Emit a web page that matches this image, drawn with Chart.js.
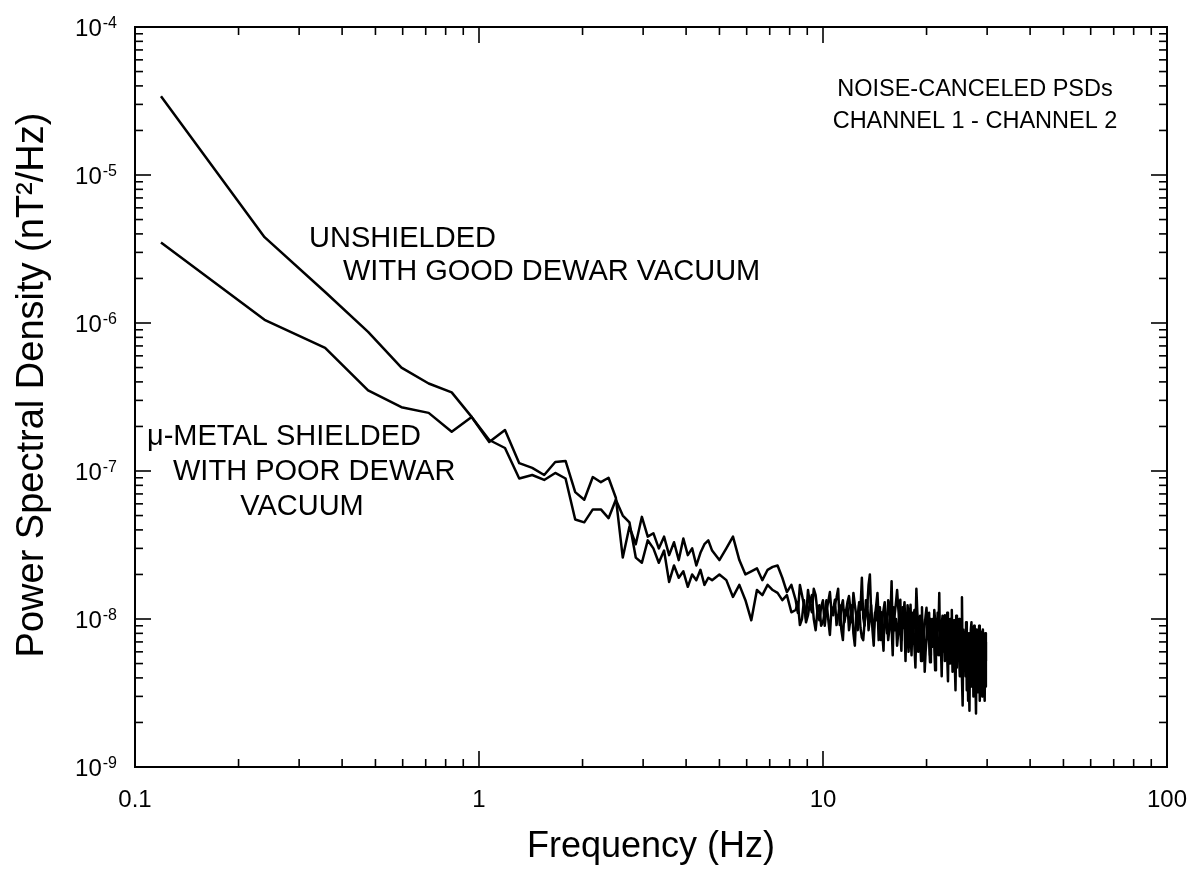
<!DOCTYPE html>
<html><head><meta charset="utf-8">
<script src="https://cdn.jsdelivr.net/npm/chart.js@4/dist/chart.umd.min.js"></script>
<style>html,body{margin:0;padding:0;background:#fff;overflow:hidden}</style>
</head><body>
<div style="width:1193px;height:870px"><canvas id="c" width="1193" height="870"></canvas></div>
<script>
// Frequency bins (Hz)
const freqHz = [0.119,0.238,0.357,0.476,0.595,0.714,0.833,0.952,1.071,1.19,1.309,1.428,1.547,1.666,1.785,1.904,2.023,2.142,2.261,2.38,2.499,2.618,2.737,2.856,2.975,3.094,3.213,3.332,3.451,3.57,3.689,3.808,3.927,4.046,4.165,4.284,4.403,4.522,4.641,4.76,
4.998,5.236,5.474,5.712,5.95,6.188,6.426,6.664,6.902,7.14,7.378,7.616,7.854,8.092,
8.33,8.449,8.568,8.687,8.806,8.925,9.044,9.163,9.282,9.401,
9.52,9.639,9.758,9.877,9.996,10.115,10.234,10.353,10.472,10.591,
10.71,10.829,10.948,11.067,11.186,11.305,11.424,11.543,11.662,11.781,
11.9,12.019,12.138,12.257,12.376,12.495,12.614,12.733,12.852,12.971,
13.09,13.209,13.328,13.447,13.566,13.685,13.804,13.923,14.042,14.161,
14.28,14.399,14.518,14.637,14.756,14.875,14.994,15.113,15.232,15.351,
15.47,15.589,15.708,15.827,15.946,16.065,16.184,16.303,16.422,16.541,
16.66,16.779,16.898,17.017,17.136,17.255,17.374,17.493,17.612,17.731,
17.85,17.969,18.088,18.207,18.326,18.445,18.564,18.683,18.802,18.921,
19.04,19.159,19.278,19.397,19.516,19.635,19.754,19.873,19.992,20.111,
20.23,20.349,20.468,20.587,20.706,20.825,20.944,21.063,21.182,21.301,
21.42,21.539,21.658,21.777,21.896,22.015,22.134,22.253,22.372,22.491,
22.61,22.729,22.848,22.967,23.086,23.205,23.324,23.443,23.562,23.681,
23.8,23.919,24.038,24.157,24.276,24.395,24.514,24.633,24.752,24.871,
24.99,25.109,25.228,25.347,25.466,25.585,25.704,25.823,25.942,26.061,
26.18,26.299,26.418,26.537,26.656,26.775,26.894,27.013,27.132,27.251,
27.37,27.489,27.608,27.727,27.846,27.965,28.084,28.203,28.322,28.441,
28.56,28.679,28.798,28.917,29.036,29.155,29.274,29.393,29.512,29.631,
29.75];

// Unshielded, good dewar vacuum (nT^2/Hz)
const psdUnshielded = [3.4e-5,3.8e-6,1.62e-6,8.7e-7,5.0e-7,3.9e-7,3.4e-7,2.32e-7,1.57e-7,1.89e-7,1.13e-7,1.05e-7,9.4e-8,1.15e-7,1.17e-7,7.2e-8,6.4e-8,9.1e-8,8.4e-8,9.0e-8,6.6e-8,2.6e-8,4.2e-8,3.2e-8,4.9e-8,3.6e-8,3.8e-8,3.0e-8,3.6e-8,2.7e-8,3.3e-8,2.5e-8,3.5e-8,2.7e-8,3.0e-8,2.3e-8,2.8e-8,3.2e-8,3.4e-8,2.9e-8,
2.5e-8,3.0e-8,3.6e-8,2.5e-8,2.0e-8,2.1e-8,2.2e-8,1.83e-8,2.15e-8,2.25e-8,2.3e-8,1.9e-8,1.52e-8,1.7e-8,
1.34e-8,1.1e-8,1.7e-8,1.45e-8,1.24e-8,1.0e-8,1.57e-8,1.25e-8,1.11e-8,1.6e-8,
1.45e-8,1.1e-8,9.8e-9,1.2e-8,1.34e-8,9.0e-9,1.15e-8,1.3e-8,1.52e-8,1.1e-8,
1.06e-8,1.25e-8,1.39e-8,1.6e-8,9.1e-9,1.2e-8,1.34e-8,9.5e-9,1.11e-8,1.3e-8,
1.43e-8,1.15e-8,9.5e-9,1.5e-8,1.24e-8,1.05e-8,8.4e-9,1.3e-8,1.15e-8,1.9e-8,
1.02e-8,9.0e-9,1.34e-8,1.2e-8,1.7e-8,2.0e-8,1.11e-8,9.5e-9,8.4e-9,1.05e-8,
1.24e-8,1.5e-8,9.8e-9,1.2e-8,7.2e-9,1.0e-8,1.15e-8,1.3e-8,9.1e-9,8.0e-9,
1.34e-8,1.2e-8,1.02e-8,1.8e-8,7.8e-9,9.5e-9,1.11e-8,1.3e-8,1.57e-8,1.2e-8,
9.8e-9,1.35e-8,7.2e-9,1.05e-8,1.06e-8,1.3e-8,8.4e-9,7.0e-9,1.24e-8,1.05e-8,
9.1e-9,1.25e-8,6.6e-9,8.5e-9,1.02e-8,1.15e-8,8.2e-9,1.6e-8,1.11e-8,9.0e-9,
7.2e-9,1.05e-8,9.8e-9,1.2e-8,6.1e-9,7.5e-9,9.1e-9,1.05e-8,1.19e-8,9.0e-9,
7.8e-9,1.1e-8,5.7e-9,1.0e-8,8.7e-9,6.5e-9,7.2e-9,1.15e-8,9.8e-9,8.0e-9,
6.6e-9,1.1e-8,8.4e-9,1.5e-8,5.7e-9,7.0e-9,9.1e-9,1.05e-8,7.2e-9,6.0e-9,
1.06e-8,9.0e-9,6.4e-9,1.1e-8,8.2e-9,7.0e-9,5.2e-9,1.0e-8,8.7e-9,1.15e-8,
6.6e-9,7.5e-9,9.8e-9,8.5e-9,6.1e-9,1.05e-8,4.7e-9,6.5e-9,7.8e-9,1.0e-8,
6.1e-9,7.5e-9,9.1e-9,1.4e-8,5.2e-9,8.5e-9,7.2e-9,6.0e-9,4.1e-9,9.5e-9,
6.6e-9,5.5e-9,2.8e-9,8.0e-9,6.1e-9,4.5e-9,8.4e-9,9.5e-9,4.8e-9,6.5e-9,
7.2e-9,9.0e-9,3.3e-9,5.0e-9,6.6e-9,8.5e-9,3.8e-9,5.5e-9,7.2e-9,9.0e-9,
4.5e-9,6.0e-9,8.2e-9,5.5e-9,3.0e-9,8.5e-9,6.1e-9,4.0e-9,7.2e-9,8.0e-9,
3.5e-9];

// mu-metal shielded, poor dewar vacuum (nT^2/Hz)
const psdShielded = [3.5e-6,1.05e-6,6.8e-7,3.5e-7,2.7e-7,2.47e-7,1.84e-7,2.32e-7,1.62e-7,1.43e-7,8.9e-8,9.4e-8,8.7e-8,9.7e-8,8.9e-8,4.7e-8,4.5e-8,5.5e-8,5.5e-8,4.8e-8,6.4e-8,5.0e-8,4.5e-8,2.6e-8,2.4e-8,3.4e-8,3.0e-8,2.4e-8,2.9e-8,1.78e-8,2.3e-8,1.9e-8,2.1e-8,1.65e-8,2.0e-8,1.83e-8,2.15e-8,1.7e-8,1.9e-8,1.83e-8,
2.0e-8,1.83e-8,1.41e-8,1.7e-8,1.34e-8,9.8e-9,1.57e-8,1.45e-8,1.7e-8,1.57e-8,1.5e-8,1.34e-8,1.45e-8,1.11e-8,
1.15e-8,1.3e-8,9.1e-9,1.0e-8,1.34e-8,9.5e-9,1.06e-8,1.3e-8,1.45e-8,1.0e-8,
8.4e-9,1.15e-8,1.24e-8,9.0e-9,9.5e-9,1.1e-8,1.34e-8,1.0e-8,7.8e-9,1.2e-8,
1.15e-8,1.35e-8,9.1e-9,1.05e-8,1.24e-8,8.5e-9,7.2e-9,1.15e-8,1.06e-8,1.25e-8,
8.4e-9,1.0e-8,1.24e-8,8.0e-9,6.6e-9,1.1e-8,1.06e-8,1.25e-8,8.7e-9,7.5e-9,
7.2e-9,9.5e-9,1.11e-8,1.3e-8,8.4e-9,1.0e-8,1.24e-8,8.5e-9,6.6e-9,1.1e-8,
9.8e-9,1.2e-8,7.2e-9,9.0e-9,1.11e-8,8.0e-9,6.1e-9,1.15e-8,9.1e-9,1.0e-8,
7.2e-9,8.5e-9,1.06e-8,9.0e-9,5.7e-9,1.2e-8,8.4e-9,1.0e-8,6.6e-9,8.0e-9,
1.11e-8,8.5e-9,6.1e-9,1.2e-8,8.7e-9,9.5e-9,5.2e-9,1.05e-8,7.8e-9,6.0e-9,
9.8e-9,8.0e-9,5.7e-9,1.1e-8,8.4e-9,6.5e-9,4.7e-9,9.5e-9,7.2e-9,6.0e-9,
9.1e-9,7.5e-9,5.2e-9,1.0e-8,7.8e-9,8.5e-9,4.4e-9,6.0e-9,7.2e-9,9.0e-9,
9.8e-9,7.0e-9,5.1e-9,8.5e-9,6.6e-9,1.0e-8,8.4e-9,6.5e-9,4.5e-9,9.0e-9,
7.2e-9,6.0e-9,5.7e-9,7.5e-9,9.1e-9,6.5e-9,4.1e-9,8.5e-9,6.6e-9,1.0e-8,
5.2e-9,6.5e-9,8.4e-9,5.5e-9,3.8e-9,9.0e-9,6.1e-9,5.0e-9,7.2e-9,8.5e-9,
4.4e-9,9.5e-9,6.6e-9,5.0e-9,3.3e-9,8.0e-9,6.1e-9,9.0e-9,8.4e-9,5.5e-9,
4.1e-9,8.5e-9,6.0e-9,4.0e-9,2.6e-9,7.5e-9,5.2e-9,4.5e-9,7.2e-9,8.0e-9,
3.3e-9,6.0e-9,5.7e-9,4.0e-9,2.4e-9,8.0e-9,5.2e-9,3.5e-9,7.2e-9,6.5e-9,
3.0e-9,8.5e-9,5.2e-9,4.2e-9,2.3e-9,7.0e-9,4.8e-9,3.2e-9,6.4e-9,6.0e-9,
2.8e-9,8.0e-9,5.7e-9,4.5e-9,3.3e-9,6.5e-9,7.2e-9,4.0e-9,2.8e-9,7.0e-9,
5.2e-9];

// Axis tick labels
const xTickValues = [0.1, 1, 10, 100];
const xTickLabels = ['0.1', '1', '10', '100'];
const yTickExponents = [-4, -5, -6, -7, -8, -9];

const FONT = '"Liberation Sans", Arial, Helvetica, sans-serif';

const annotations = [
  {text: 'NOISE-CANCELED PSDs', x: 975, y: 96, align: 'center', size: 23.5},
  {text: 'CHANNEL 1 - CHANNEL 2', x: 975, y: 128, align: 'center', size: 23.5},
  {text: 'UNSHIELDED', x: 309, y: 247, align: 'left', size: 29},
  {text: 'WITH GOOD DEWAR VACUUM', x: 343, y: 280, align: 'left', size: 29},
  {text: '\u03BC-METAL SHIELDED', x: 147, y: 445, align: 'left', size: 29},
  {text: 'WITH POOR DEWAR', x: 173, y: 480, align: 'left', size: 29},
  {text: 'VACUUM', x: 302, y: 515, align: 'center', size: 29}
];

const framePlugin = {
  id: 'framePlugin',
  afterDatasetsDraw(chart) {
    const {ctx, chartArea: a, scales: {x, y}} = chart;
    ctx.save();
    ctx.strokeStyle = '#000';
    ctx.fillStyle = '#000';
    ctx.lineWidth = 2;
    ctx.strokeRect(a.left, a.top, a.right - a.left, a.bottom - a.top);
    ctx.lineWidth = 1.6;
    const seg = (x1, y1, x2, y2) => { ctx.beginPath(); ctx.moveTo(x1, y1); ctx.lineTo(x2, y2); ctx.stroke(); };
    for (let e = -1; e <= 1; e++) {
      for (let m = 1; m <= 9; m++) {
        const px = x.getPixelForValue(m * Math.pow(10, e));
        const L = m === 1 ? 16 : 8;
        seg(px, a.bottom, px, a.bottom - L);
        seg(px, a.top, px, a.top + L);
      }
    }
    for (let e = -9; e <= -5; e++) {
      for (let m = 1; m <= 9; m++) {
        const py = y.getPixelForValue(m * Math.pow(10, e));
        const L = m === 1 ? 16 : 8;
        seg(a.left, py, a.left + L, py);
        seg(a.right, py, a.right - L, py);
      }
    }
    ctx.font = '24px ' + FONT;
    ctx.textAlign = 'center';
    ctx.textBaseline = 'alphabetic';
    xTickValues.forEach((v, i) => {
      ctx.fillText(xTickLabels[i], x.getPixelForValue(v), a.bottom + 40);
    });
    yTickExponents.forEach(ex => {
      const py = y.getPixelForValue(Math.pow(10, ex));
      const sup = '-' + Math.abs(ex);
      ctx.font = '16px ' + FONT;
      const sw = ctx.measureText(sup).width;
      ctx.textAlign = 'left';
      const right = a.left - 18;
      ctx.fillText(sup, right - sw, py + 1);
      ctx.font = '24px ' + FONT;
      ctx.textAlign = 'right';
      ctx.fillText('10', right - sw - 1, py + 9);
    });
    ctx.font = '36px ' + FONT;
    ctx.textAlign = 'center';
    ctx.fillText('Frequency (Hz)', (a.left + a.right) / 2, 857);
    ctx.save();
    ctx.translate(43, 385);
    ctx.rotate(-Math.PI / 2);
    ctx.font = '38px ' + FONT;
    ctx.fillText('Power Spectral Density (nT\u00B2/Hz)', 0, 0);
    ctx.restore();
    annotations.forEach(t => {
      ctx.font = t.size + 'px ' + FONT;
      ctx.textAlign = t.align;
      ctx.fillText(t.text, t.x, t.y);
    });
    ctx.restore();
  }
};

const toPoints = (xs, ys) => xs.map((f, i) => ({x: f, y: ys[i]}));

new Chart(document.getElementById('c'), {
  type: 'scatter',
  data: {
    datasets: [
      {label: 'Unshielded, good dewar vacuum', data: toPoints(freqHz, psdUnshielded), showLine: true, borderColor: '#000', borderWidth: 2.5, pointRadius: 0, tension: 0, fill: false, borderJoinStyle: 'round'},
      {label: '\u03BC-metal shielded, poor dewar vacuum', data: toPoints(freqHz, psdShielded), showLine: true, borderColor: '#000', borderWidth: 2.5, pointRadius: 0, tension: 0, fill: false, borderJoinStyle: 'round'}
    ]
  },
  options: {
    responsive: false,
    animation: false,
    devicePixelRatio: 1,
    layout: {padding: {top: 27, right: 26, left: 0, bottom: 0}},
    plugins: {legend: {display: false}, tooltip: {enabled: false}, title: {display: false}},
    scales: {
      x: {type: 'logarithmic', min: 0.1, max: 100, position: 'bottom',
          grid: {display: false}, border: {display: false}, ticks: {display: false},
          afterFit(s) { s.height = 103; }},
      y: {type: 'logarithmic', min: 1e-9, max: 1e-4, position: 'left',
          grid: {display: false}, border: {display: false}, ticks: {display: false},
          afterFit(s) { s.width = 135; }}
    }
  },
  plugins: [framePlugin]
});
</script>
</body></html>
